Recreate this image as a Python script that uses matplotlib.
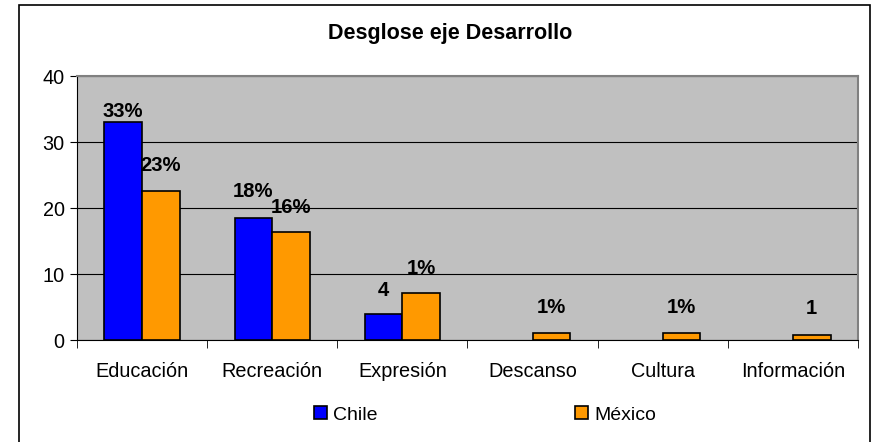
import numpy as np
import matplotlib.pyplot as plt
from matplotlib.patches import Rectangle

plt.rcParams['font.family'] = ['Liberation Sans', 'DejaVu Sans']

categorias = ['Educación', 'Recreación', 'Expresión', 'Descanso', 'Cultura', 'Información']
chile = [33.0, 18.5, 3.9, 0, 0, 0]
mexico = [22.6, 16.3, 7.1, 1.1, 1.1, 0.8]
etiq_chile = ['33%', '18%', '4', '', '', '']
etiq_mexico = ['23%', '16%', '1%', '1%', '1%', '1']
# distancia (px) del centro de la etiqueta al borde de la barra
off_chile = [11, 26, 24, 0, 0, 0]
off_mexico = [25.5, 25, 25, 25, 25, 26]

fig = plt.figure(figsize=(8.77, 4.42), dpi=100)
ax = fig.add_axes([77/877, 1 - 340/442, (858-77)/877, (340-76)/442])

# marco exterior
fig.patches.append(Rectangle((19/877, -0.05), (870-19)/877, 1 - 5/442 + 0.05,
                             transform=fig.transFigure, fill=False,
                             edgecolor='black', linewidth=1.2))

x = np.arange(len(categorias))
w = 0.29
ch = np.array(chile, dtype=float)
ch[ch == 0] = np.nan
ax.set_facecolor('#c0c0c0')
b1 = ax.bar(x - w/2, ch, w, color='#0000ff', edgecolor='black', linewidth=1.2, label='Chile', zorder=3)
b2 = ax.bar(x + w/2, mexico, w, color='#ff9900', edgecolor='black', linewidth=1.2, label='México', zorder=3)

for i in range(len(categorias)):
    if etiq_chile[i]:
        ax.annotate(etiq_chile[i], (x[i] - w/2, chile[i]), xytext=(0, off_chile[i] * 0.72),
                    textcoords='offset points', ha='center', va='center',
                    fontsize=14.6, fontweight='bold')
    if etiq_mexico[i]:
        ax.annotate(etiq_mexico[i], (x[i] + w/2, mexico[i]), xytext=(0, off_mexico[i] * 0.72),
                    textcoords='offset points', ha='center', va='center',
                    fontsize=14.6, fontweight='bold')

ax.set_xlim(-0.5, len(categorias) - 0.5)
ax.set_ylim(0, 40)
ax.set_yticks([0, 10, 20, 30, 40])
ax.yaxis.grid(True, color='black', linewidth=0.8, zorder=1)
ax.set_axisbelow(True)
ax.set_xticks(x)
ax.set_xticklabels(categorias, fontsize=14.3)
ax.set_xticks(np.arange(-0.5, len(categorias)), minor=True)
ax.tick_params(axis='x', which='major', length=0, pad=16)
ax.tick_params(axis='x', which='minor', length=6, direction='out')
ax.tick_params(axis='y', length=5, direction='out', labelsize=14.3, pad=4)

for s in ['top', 'right']:
    ax.spines[s].set_color('#808080')
    ax.spines[s].set_linewidth(1.5)
ax.spines['left'].set_color('black')
ax.spines['bottom'].set_color('black')

fig.text(450/877, 1 - 33/442, 'Desglose eje Desarrollo', ha='center', va='center',
         fontsize=15.5, fontweight='bold')

leg = fig.legend(handles=[b1, b2], labels=['Chile', 'México'], loc='center',
                 bbox_to_anchor=(485/877, 1 - 415/442), ncol=2, frameon=False,
                 fontsize=14, handlelength=0.65, handleheight=0.65, handletextpad=0.3,
                 columnspacing=10.2)

fig.savefig('out.png', dpi=100)
